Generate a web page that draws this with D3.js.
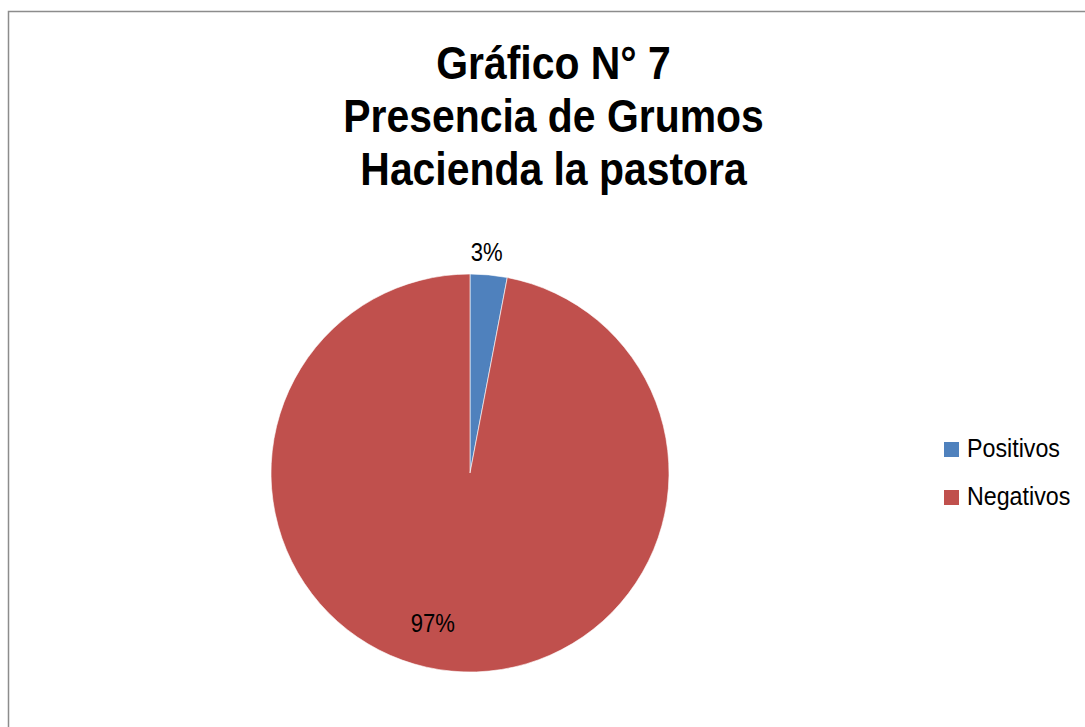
<!DOCTYPE html>
<html>
<head>
<meta charset="utf-8">
<script src="https://cdn.jsdelivr.net/npm/d3@7"></script>
<style>
  html, body { margin: 0; padding: 0; background: #fff; }
  svg { display: block; }
</style>
</head>
<body>
<svg id="chart" width="1085" height="727"></svg>
<script>
// Chart data
const categories = ["Positivos", "Negativos"];
const values = [3, 97];
const colors = ["#4F81BD", "#C0504D"];
const titleLines = ["Gráfico N° 7", "Presencia de Grumos", "Hacienda la pastora"];

const FONT = "'Liberation Sans', Arial, sans-serif";
// horizontal squeeze to get a narrow typeface look
const NARROW = 0.87;

const svg = d3.select("#chart");

// Chart frame
svg.append("rect")
  .attr("x", 8.5).attr("y", 11.5)
  .attr("width", 1100).attr("height", 740)
  .attr("fill", "#fff")
  .attr("stroke", "#8c8c8c")
  .attr("stroke-width", 1.5);

// Title
titleLines.forEach((t, i) => {
  svg.append("text")
    .attr("transform", `translate(553.5,${79 + i * 53}) scale(${NARROW},1)`)
    .attr("text-anchor", "middle")
    .attr("font-family", FONT)
    .attr("font-weight", "bold")
    .attr("font-size", 47)
    .attr("fill", "#000")
    .text(t);
});

// Pie
const cx = 470, cy = 473, r = 199;
const data = categories.map((c, i) => ({ name: c, value: values[i], color: colors[i] }));
const pie = d3.pie().value(d => d.value).sort(null);
const arcs = pie(data);
const arc = d3.arc().innerRadius(0).outerRadius(r);

const g = svg.append("g").attr("transform", `translate(${cx},${cy})`);
g.selectAll("path.slice")
  .data(arcs)
  .join("path")
  .attr("class", "slice")
  .attr("d", arc)
  .attr("fill", d => d.data.color)
  .attr("stroke", "#fff")
  .attr("stroke-width", 0.6);

// Percentage labels: small slice outside the rim, large slice inside
const total = d3.sum(values);
function labelPos(d) {
  const share = d.data.value / total;
  if (share < 0.1) {
    const p = d3.arc().innerRadius(r + 22).outerRadius(r + 22).centroid(d);
    return [p[0] - 4, p[1] + 8];
  }
  const p = d3.arc().innerRadius(r * 0.755).outerRadius(r * 0.755).centroid(d);
  return [p[0] - 23, p[1] + 9];
}
g.selectAll("text.pct")
  .data(arcs)
  .join("text")
  .attr("class", "pct")
  .attr("text-anchor", "middle")
  .attr("font-family", FONT)
  .attr("font-size", 26)
  .attr("fill", "#000")
  .attr("transform", d => {
    const p = labelPos(d);
    return `translate(${p[0]},${p[1]}) scale(0.85,1)`;
  })
  .text(d => Math.round(d.data.value / total * 100) + "%");

// Legend
const legend = svg.append("g").attr("transform", "translate(944,442)");
const items = legend.selectAll("g")
  .data(data)
  .join("g")
  .attr("transform", (d, i) => `translate(0,${i * 48})`);
items.append("rect")
  .attr("width", 15).attr("height", 15)
  .attr("fill", d => d.color);
items.append("text")
  .attr("transform", "translate(23,15) scale(0.93,1)")
  .attr("font-family", FONT)
  .attr("font-size", 25)
  .attr("fill", "#000")
  .text(d => d.name);
</script>
</body>
</html>
